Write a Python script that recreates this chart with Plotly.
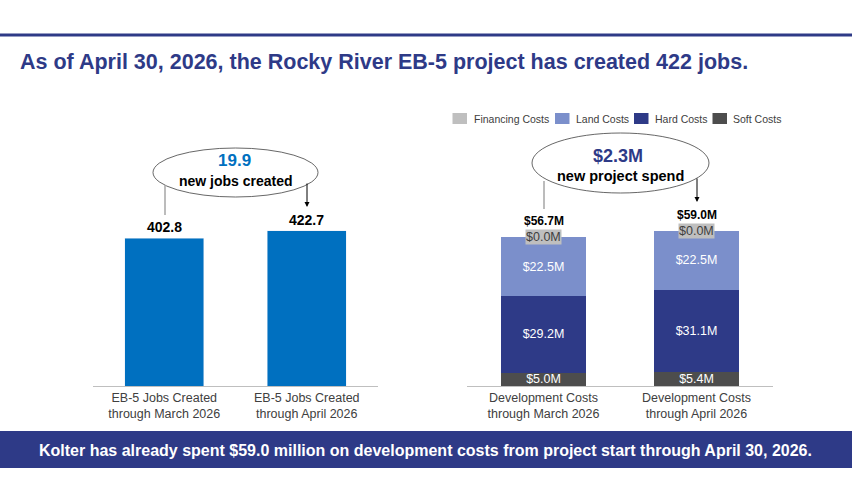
import plotly.graph_objects as go

W, H = 852, 502
NAVY = "#2e3a87"
FONT = "Liberation Sans, Arial, sans-serif"

# left chart: EB-5 jobs
job_labels = ["EB-5 Jobs Created<br>through March 2026", "EB-5 Jobs Created<br>through April 2026"]
jobs = [402.8, 422.7]
jobs_change = "19.9"

# right chart: development costs ($M)
cost_labels = ["Development Costs<br>through March 2026", "Development Costs<br>through April 2026"]
soft_costs = [5.0, 5.4]
hard_costs = [29.2, 31.1]
land_costs = [22.5, 22.5]
financing_costs = [0.0, 0.0]
spend_change = "$2.3M"

totals = [round(s + h + l + f, 1) for s, h, l, f in zip(soft_costs, hard_costs, land_costs, financing_costs)]


def px(x):
    return x / W


def py(y):
    return 1 - y / H


fig = go.Figure()

fig.add_trace(go.Bar(x=job_labels, y=jobs, width=0.555, marker_color="#0070c0",
                     xaxis="x", yaxis="y", hoverinfo="skip"))

stack = [
    ("Soft Costs", soft_costs, "#4d4d4d"),
    ("Hard Costs", hard_costs, NAVY),
    ("Land Costs", land_costs, "#7b8fcb"),
    ("Financing Costs", financing_costs, "#bfbfbf"),
]
for name, vals, col in stack:
    fig.add_trace(go.Bar(
        x=cost_labels, y=vals, name=name, width=0.555, marker_color=col,
        marker_line_width=0, xaxis="x2", yaxis="y2",
        texttemplate="$%{y:.1f}M" if name != "Financing Costs" else None,
        textposition="inside" if name != "Financing Costs" else "none",
        insidetextanchor="middle", textangle=0, constraintext="none",
        textfont=dict(color="white", size=12.5, family=FONT),
    ))

ann = []
# value labels
for c, v in zip(job_labels, jobs):
    ann.append(dict(x=c, y=v, xref="x", yref="y", text=f"<b>{v:.1f}</b>", showarrow=False,
                    yanchor="bottom", yshift=1, font=dict(size=14, color="black")))
for c, t, f in zip(cost_labels, totals, financing_costs):
    ann.append(dict(x=c, y=t, xref="x2", yref="y2", text=f"<b>${t:.1f}M</b>", showarrow=False,
                    yanchor="bottom", yshift=7, font=dict(size=12, color="black")))
    ann.append(dict(x=c, y=t, xref="x2", yref="y2", text=f"${f:.1f}M", showarrow=False,
                    yanchor="middle", bgcolor="#bfbfbf", borderpad=0, yshift=-0.5,
                    font=dict(size=12.5, color="#404040")))

# title + banner text
ann.append(dict(x=px(18), y=py(62), xref="paper", yref="paper", xanchor="left", yanchor="middle",
                text="<b>As of April 30, 2026, the Rocky River EB-5 project has created 422 jobs.</b>",
                showarrow=False, font=dict(size=21.5, color=NAVY)))
ann.append(dict(x=px(425), y=py(450), xref="paper", yref="paper", xanchor="center", yanchor="middle",
                text="<b>Kolter has already spent $59.0 million on development costs from project start through April 30, 2026.</b>",
                showarrow=False, font=dict(size=16, color="white")))

# ellipse callouts
ann += [
    dict(x=px(234), y=py(161), text=f"<b>{jobs_change}</b>", font=dict(size=17, color="#0070c0")),
    dict(x=px(235.5), y=py(181), text="<b>new jobs created</b>", font=dict(size=14, color="black")),
    dict(x=px(618), y=py(156), text=f"<b>{spend_change}</b>", font=dict(size=18, color=NAVY)),
    dict(x=px(620), y=py(176), text="<b>new project spend</b>", font=dict(size=14.5, color="black")),
]
for a in ann[-4:]:
    a.update(xref="paper", yref="paper", showarrow=False, xanchor="center", yanchor="middle")

# arrows
for x, tip in [(307, 207), (697, 202)]:
    ann.append(dict(x=px(x), y=py(tip), xref="paper", yref="paper", ax=0, ay=-25, text="",
                    showarrow=True, arrowhead=2, arrowsize=1, arrowwidth=1, arrowcolor="black"))

# legend (manual, to match spacing)
legend_items = [("Financing Costs", "#bfbfbf", 452.5, 471.5),
                ("Land Costs", "#7b8fcb", 555, 573.5),
                ("Hard Costs", NAVY, 634, 652.5),
                ("Soft Costs", "#4d4d4d", 712.5, 731)]
shapes = []
for name, col, sx, tx in legend_items:
    shapes.append(dict(type="rect", xref="paper", yref="paper", x0=px(sx), x1=px(sx + 14.5),
                       y0=py(124), y1=py(113), fillcolor=col, line_width=0))
    ann.append(dict(x=px(tx), y=py(118.5), xref="paper", yref="paper", xanchor="left", yanchor="middle",
                    text=name, showarrow=False, font=dict(size=10.5, color="#404040")))

# top rule and bottom banner
shapes.append(dict(type="line", xref="paper", yref="paper", x0=0, x1=1, y0=py(35), y1=py(35),
                   line=dict(color=NAVY, width=3)))
shapes.append(dict(type="rect", xref="paper", yref="paper", x0=0, x1=1, y0=py(468), y1=py(431),
                   fillcolor=NAVY, line_width=0, layer="below"))
# ellipses
shapes.append(dict(type="circle", xref="paper", yref="paper", x0=px(153), x1=px(318),
                   y0=py(197), y1=py(148), line=dict(color="#404040", width=0.8), fillcolor="white"))
shapes.append(dict(type="circle", xref="paper", yref="paper", x0=px(532), x1=px(709),
                   y0=py(193), y1=py(133), line=dict(color="#404040", width=0.8), fillcolor="white"))
# connector lines from ellipses
shapes.append(dict(type="line", xref="paper", yref="paper", x0=px(165), x1=px(165),
                   y0=py(185), y1=py(215), line=dict(color="#a6a6a6", width=1.5)))
shapes.append(dict(type="line", xref="paper", yref="paper", x0=px(544), x1=px(544),
                   y0=py(181), y1=py(209), line=dict(color="#a6a6a6", width=1.5)))

axis_common = dict(showgrid=False, zeroline=False, showline=True, linecolor="#bfbfbf", linewidth=1,
                   ticks="", tickfont=dict(size=12.5, color="#404040", family=FONT), fixedrange=True)
yaxis_common = dict(showgrid=False, zeroline=False, showticklabels=False, showline=False, fixedrange=True)

fig.update_layout(
    width=W, height=H,
    margin=dict(l=0, r=0, t=0, b=0),
    paper_bgcolor="white", plot_bgcolor="white",
    font=dict(family=FONT),
    showlegend=False,
    barmode="stack",
    xaxis=dict(domain=[px(93), px(378)], anchor="y", **axis_common),
    yaxis=dict(domain=[py(386), py(100)], range=[0, 778.5], anchor="x", **yaxis_common),
    xaxis2=dict(domain=[px(467), px(773)], anchor="y2", **axis_common),
    yaxis2=dict(domain=[py(386), py(100)], range=[0, 108.8], anchor="x2", **yaxis_common),
    annotations=ann,
    shapes=shapes,
)

# page body has a default 8px margin; remove it so the figure fills the window
fig.write_html("out.html", config={"displayModeBar": False},
               post_script="document.body.style.margin='0';")
